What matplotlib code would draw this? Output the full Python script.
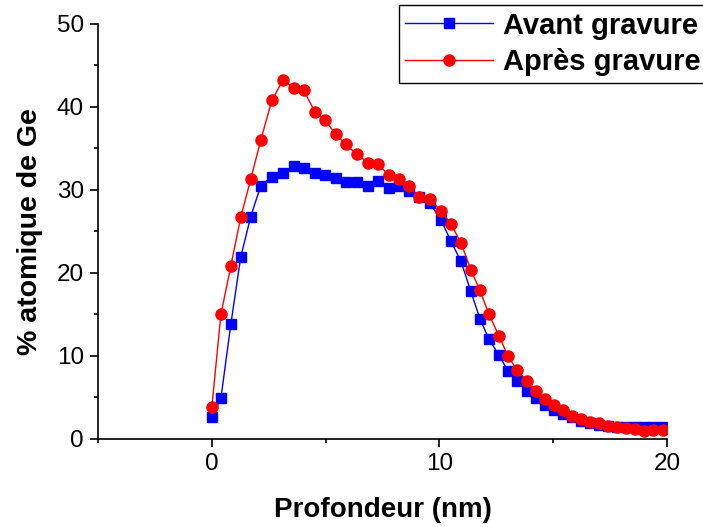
import numpy as np
import matplotlib.pyplot as plt
from matplotlib.ticker import MultipleLocator

plt.rcParams['font.family'] = ['Liberation Sans', 'DejaVu Sans']

# Depth (nm), shared by both profiles
depth = [0.00, 0.40, 0.84, 1.27, 1.71, 2.15, 2.64, 3.12, 3.60, 4.04,
         4.53, 4.97, 5.45, 5.89, 6.37, 6.86, 7.30, 7.78, 8.22, 8.66,
         9.10, 9.58, 10.07, 10.51, 10.95, 11.38, 11.78, 12.18, 12.62, 13.01,
         13.41, 13.85, 14.24, 14.64, 15.03, 15.43, 15.82, 16.22, 16.62, 17.01,
         17.41, 17.80, 18.20, 18.59, 18.99, 19.38, 19.82]

# % atomique de Ge avant gravure
avant = [2.6, 4.9, 13.9, 21.9, 26.8, 30.5, 31.6, 32.1, 32.9, 32.6,
         32.0, 31.8, 31.4, 31.0, 31.0, 30.5, 31.1, 30.2, 30.5, 29.9,
         29.2, 28.4, 26.4, 23.8, 21.4, 17.8, 14.5, 12.0, 10.1, 8.2,
         7.0, 5.8, 4.9, 4.1, 3.5, 3.0, 2.6, 2.2, 1.9, 1.7,
         1.6, 1.5, 1.4, 1.4, 1.4, 1.4, 1.4]

# % atomique de Ge apres gravure
apres = [3.8, 15.0, 20.9, 26.7, 31.3, 36.0, 40.8, 43.2, 42.3, 42.0,
         39.4, 38.4, 36.7, 35.5, 34.3, 33.3, 33.1, 31.8, 31.3, 30.5,
         29.1, 28.9, 27.5, 25.9, 23.6, 20.4, 17.9, 15.0, 12.4, 10.0,
         8.3, 7.0, 5.8, 4.8, 4.1, 3.5, 2.8, 2.4, 2.1, 1.9,
         1.6, 1.4, 1.3, 1.2, 1.0, 1.1, 1.1]

fig = plt.figure(figsize=(7.03, 5.27), dpi=100)
ax = fig.add_axes([0.1394, 0.167, 0.8094, 0.7875])

ax.plot(depth, avant, color='blue', marker='s', markersize=6.5, linewidth=1,
        label='Avant gravure')
ax.plot(depth, apres, color='red', marker='o', markersize=8, linewidth=1,
        label='Après gravure')

ax.set_xlim(-5, 20)
ax.set_ylim(0, 50)
ax.xaxis.set_major_locator(MultipleLocator(10))
ax.xaxis.set_minor_locator(MultipleLocator(5))
ax.yaxis.set_major_locator(MultipleLocator(10))
ax.yaxis.set_minor_locator(MultipleLocator(5))
ax.tick_params(which='major', direction='out', length=6, width=1.2,
               labelsize=17.5, pad=4)
ax.tick_params(which='minor', direction='out', length=3, width=1.2)
ax.spines['top'].set_visible(False)
ax.spines['right'].set_visible(False)
for s in ('left', 'bottom'):
    ax.spines[s].set_linewidth(1.2)

ax.set_xlabel('Profondeur (nm)', fontsize=20, fontweight='bold', labelpad=16)
ax.set_ylabel('% atomique de Ge', fontsize=20.5, fontweight='bold', labelpad=10)

leg = ax.legend(loc='upper right', bbox_to_anchor=(1.006, 0.99),
                bbox_transform=fig.transFigure,
                prop={'weight': 'bold', 'size': 21}, fancybox=False,
                edgecolor='black', framealpha=1, handlelength=3.0,
                borderpad=0.22, labelspacing=0.3, handletextpad=0.35,
                borderaxespad=0)
leg.get_frame().set_linewidth(1)

fig.savefig('out.png', dpi=100)
